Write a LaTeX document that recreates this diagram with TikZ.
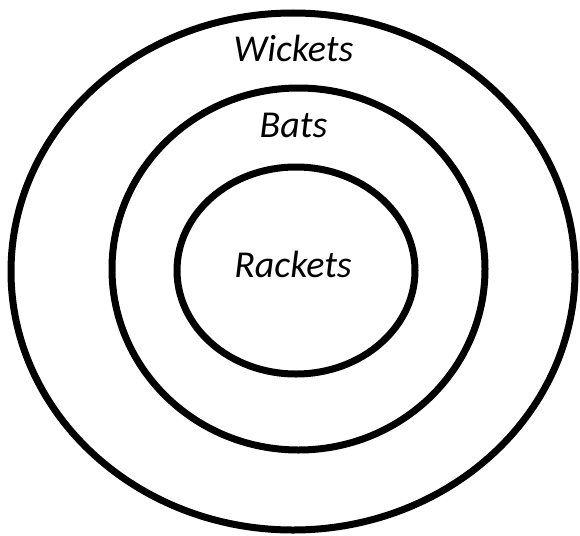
\documentclass[tikz,border=0pt]{standalone}
\usepackage{fontspec}
\setmainfont{Carlito}
\usetikzlibrary{shapes.geometric}

\begin{document}
\begin{tikzpicture}[x=1pt,y=-1pt,
  ring/.style={draw=black,line width=7pt,ellipse,inner sep=0pt,outer sep=0pt},
  lbl/.style={font=\fontsize{38}{44}\selectfont\itshape,anchor=base,inner sep=0pt}]
\useasboundingbox (0,0) rectangle (580,535);
\node[ring,minimum width=564pt,minimum height=517pt] (wickets) at (293,271.5) {};
\node[ring,minimum width=373pt,minimum height=362pt] (bats) at (298.5,269) {};
\node[ring,minimum width=238pt,minimum height=207pt] (rackets) at (296,270.5) {};
\node[lbl] (lwickets) at (293.5,61) {Wickets};
\node[lbl] (lbats) at (293.5,137) {Bats};
\node[lbl] (lrackets) at (293,277) {Rackets};
\end{tikzpicture}
\end{document}
